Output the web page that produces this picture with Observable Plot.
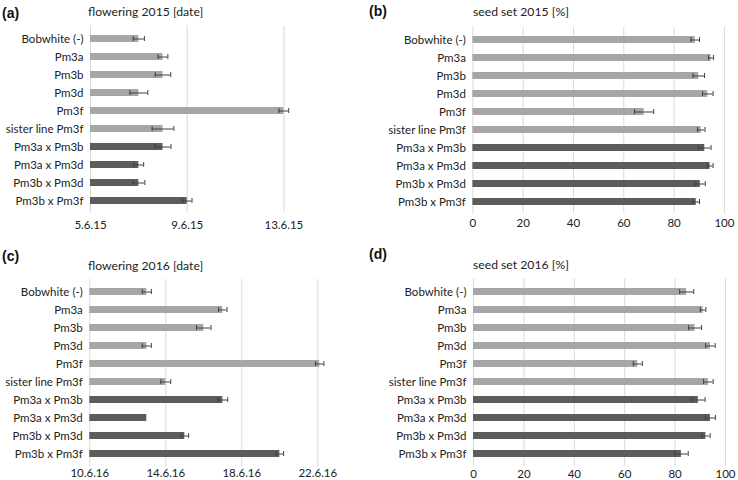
<!DOCTYPE html>
<html><head><meta charset="utf-8">
<script src="https://cdn.jsdelivr.net/npm/d3@7"></script>
<script src="https://cdn.jsdelivr.net/npm/@observablehq/plot@0.6"></script>
<style>
body{margin:0;background:#fff;}
#fig{position:relative;width:738px;height:480px;overflow:hidden;font-family:Lato,sans-serif;color:#222;}
#fig svg{position:absolute;}
.tag{position:absolute;font:bold 14px/16px "Liberation Sans",Arial,sans-serif;color:#111;white-space:nowrap;}
.title{position:absolute;font:12.2px/16px Lato,sans-serif;color:#222;white-space:nowrap;}
</style></head><body><div id="fig"></div>
<script>
// ---- data ----
const genotypes = ["Bobwhite (-)","Pm3a","Pm3b","Pm3d","Pm3f","sister line Pm3f","Pm3a x Pm3b","Pm3a x Pm3d","Pm3b x Pm3d","Pm3b x Pm3f"];
const lineType = ["single","single","single","single","single","single","cross","cross","cross","cross"];

// flowering date, day of June
const flowering2015 = [7, 8, 8, 7, 13, 8, 8, 7, 7, 9];
const flowering2015Err = [0.23, 0.2, 0.32, 0.37, 0.2, 0.45, 0.33, 0.2, 0.25, 0.2];
const flowering2015Ticks = [5, 9, 13];
const flowering2015TickLabels = ["5.6.15", "9.6.15", "13.6.15"];

const flowering2016 = [13, 17, 16, 13, 22.1, 14, 17, 13, 15, 20];
const flowering2016Err = [0.24, 0.22, 0.38, 0.24, 0.22, 0.26, 0.26, 0, 0.2, 0.2];
const flowering2016Ticks = [10, 14, 18, 22];
const flowering2016TickLabels = ["10.6.16", "14.6.16", "18.6.16", "22.6.16"];

// seed set, percent
const seedSet2015 = [88.4, 94.7, 89.8, 93.4, 68.1, 90.8, 92.2, 94.3, 90.4, 88.8];
const seedSet2015Err = [1.7, 1.0, 2.3, 2.1, 3.8, 1.5, 2.5, 1.2, 2.0, 1.3];
const seedSet2016 = [84.6, 91.1, 87.9, 94.0, 65.2, 93.2, 89.2, 94.0, 92.2, 82.5];
const seedSet2016Err = [2.8, 1.1, 2.6, 1.9, 1.8, 1.9, 2.7, 2.0, 1.7, 2.7];
const seedSetTicks = [0, 20, 40, 60, 80, 100];
const seedSetTickLabels = ["0", "20", "40", "60", "80", "100"];

const panelTags = ["(a)", "(b)", "(c)", "(d)"];
const panelTitles = ["flowering 2015 [date]", "seed set 2015 [%]", "flowering 2016 [date]", "seed set 2016 [%]"];

// ---- drawing ----
const fig = document.getElementById("fig");
function addText(cls, text, left, centerY) {
  const d = document.createElement("div");
  d.className = cls; d.textContent = text;
  d.style.left = left + "px"; d.style.top = (centerY - 8) + "px";
  fig.appendChild(d);
}

function panel(p) {
  const data = genotypes.map((g, i) => ({g, v: p.values[i], e: p.errors[i], t: lineType[i]}));
  const errColor = "#404040";
  const chart = Plot.plot({
    width: p.width, height: p.height,
    marginLeft: p.ml, marginRight: p.mr, marginTop: p.mt, marginBottom: p.mb,
    style: {fontFamily: "Lato, sans-serif", fontSize: "11.5px", color: "#222", background: "transparent", overflow: "visible"},
    x: {domain: p.domain},
    y: {domain: genotypes, paddingInner: 0.62, paddingOuter: 0.31},
    color: {domain: ["single", "cross"], range: ["#a6a6a6", "#5c5c5c"]},
    marks: [
      Plot.gridX(p.ticks, {stroke: "#d9d9d9", strokeOpacity: 1, strokeWidth: 1}),
      Plot.barX(data, {x1: d => p.domain[0], x2: "v", y: "g", fill: "t"}),
      Plot.ruleY(data.filter(d => d.e > 0), {x1: d => d.v - d.e, x2: d => d.v + d.e, y: "g", stroke: errColor, strokeWidth: 1}),
      Plot.tickX(data.filter(d => d.e > 0), {x: d => d.v - d.e, y: "g", stroke: errColor, insetTop: 1, insetBottom: 1}),
      Plot.tickX(data.filter(d => d.e > 0), {x: d => d.v + d.e, y: "g", stroke: errColor, insetTop: 1, insetBottom: 1}),
      Plot.axisX({ticks: p.ticks, tickFormat: d => p.tickLabels[p.ticks.indexOf(d)], tickSize: 0, tickPadding: p.tp, label: null, fontSize: 11.5}),
      Plot.axisY({tickSize: 0, tickPadding: 7, label: null, fontSize: 11.5})
    ]
  });
  chart.style.left = p.left + "px";
  chart.style.top = p.top + "px";
  fig.appendChild(chart);
}

panel({values: flowering2015, errors: flowering2015Err, ticks: flowering2015Ticks, tickLabels: flowering2015TickLabels,
  domain: [5, 15], left: 0, top: 20, width: 368, height: 220, ml: 90, mr: 36.3, mt: 5.67, mb: 27.67, tp: 7.5});
panel({values: seedSet2015, errors: seedSet2015Err, ticks: seedSetTicks, tickLabels: seedSetTickLabels,
  domain: [0, 100], left: 368, top: 20, width: 370, height: 220, ml: 104.4, mr: 14.1, mt: 6.67, mb: 26.67, tp: 5});
panel({values: flowering2016, errors: flowering2016Err, ticks: flowering2016Ticks, tickLabels: flowering2016TickLabels,
  domain: [10, 23.5], left: 0, top: 270, width: 368, height: 210, ml: 89.3, mr: 22.2, mt: 9, mb: 14, tp: 2.3});
panel({values: seedSet2016, errors: seedSet2016Err, ticks: seedSetTicks, tickLabels: seedSetTickLabels,
  domain: [0, 100], left: 368, top: 270, width: 370, height: 210, ml: 105, mr: 13, mt: 8.3, mb: 13.9, tp: 3.2});

addText("tag", panelTags[0], 2, 12.5);
addText("title", panelTitles[0], 88, 12);
addText("tag", panelTags[1], 369, 11);
addText("title", panelTitles[1], 473, 12);
addText("tag", panelTags[2], 2, 255.5);
addText("title", panelTitles[2], 88, 266);
addText("tag", panelTags[3], 369, 254);
addText("title", panelTitles[3], 473, 265);
</script>
</body></html>
